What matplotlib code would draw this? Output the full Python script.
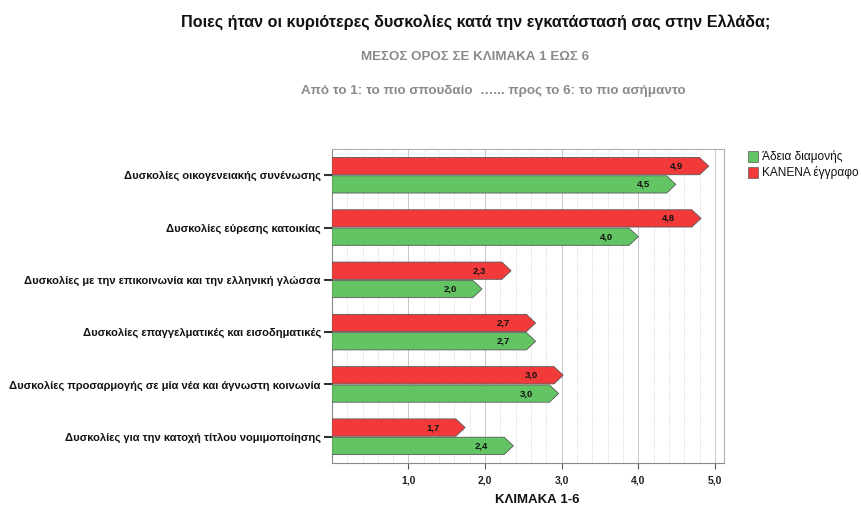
import matplotlib
matplotlib.use("Agg")
import matplotlib.pyplot as plt
from matplotlib.patches import Polygon
from matplotlib.ticker import MultipleLocator

plt.rcParams["font.family"] = ["Liberation Sans", "DejaVu Sans"]

# categories top -> bottom
categories = [
    "Δυσκολίες οικογενειακής συνένωσης",
    "Δυσκολίες εύρεσης κατοικίας",
    "Δυσκολίες με την επικοινωνία και την ελληνική γλώσσα",
    "Δυσκολίες επαγγελματικές και εισοδηματικές",
    "Δυσκολίες προσαρμογής σε μία νέα και άγνωστη κοινωνία",
    "Δυσκολίες για την κατοχή τίτλου νομιμοποίησης",
]
# mean score per group
no_papers = [4.92, 4.82, 2.34, 2.66, 3.02, 1.74]   # ΚΑΝΕΝΑ έγγραφο
permit = [4.49, 4.00, 1.96, 2.66, 2.96, 2.37]      # Άδεια διαμονής
xticks = [1, 2, 3, 4, 5]

RED = "#f23a3a"
GREEN = "#62c462"
EDGE = "#5a5a5a"
HEAD = 0.12
H = 0.33
OFF = 0.175


def arrow_bar(ax, y, v, color):
    body = max(v - HEAD, 0)
    pts = [(0, y - H / 2), (body, y - H / 2), (v, y),
           (body, y + H / 2), (0, y + H / 2)]
    ax.add_patch(Polygon(pts, closed=True, facecolor=color, edgecolor=EDGE,
                         lw=0.6, zorder=3))
    ax.text(v - 0.42, y, f"{v:.1f}".replace(".", ","), ha="center",
            va="center", fontsize=6.8, fontweight="bold", color="#111111",
            zorder=4)


fig = plt.figure(figsize=(8.62, 5.16), dpi=100)
ax = fig.add_axes([0.385, 0.103, 0.455, 0.608])

for i, (r, g) in enumerate(zip(no_papers, permit)):
    arrow_bar(ax, i - OFF, r, RED)
    arrow_bar(ax, i + OFF, g, GREEN)

ax.set_xlim(0, 5.12)
ax.set_ylim(len(categories) - 0.5, -0.5)
ax.set_yticks(range(len(categories)))
ax.set_yticklabels(categories, fontsize=8, fontweight="bold", color="#111111")
ax.set_xticks(xticks)
ax.set_xticklabels([f"{t:.1f}".replace(".", ",") for t in xticks],
                   fontsize=7.5, fontweight="bold", color="#222222")
ax.xaxis.set_minor_locator(MultipleLocator(0.2))
ax.tick_params(axis="y", length=6, width=1.5, color="#333333", pad=2)
ax.tick_params(axis="x", which="major", length=4, width=0.8, color="#555555", pad=5)
ax.tick_params(axis="x", which="minor", length=0)
ax.grid(True, axis="x", which="major", color="#c8c8c8", lw=0.7, zorder=0)
ax.grid(True, axis="x", which="minor", color="#c8c8c8", lw=0.6, ls=":", zorder=0)
ax.set_axisbelow(True)
for side, sp in ax.spines.items():
    sp.set_color("#b0b0b0" if side in ("top", "right") else "#888888")
    sp.set_linewidth(0.8)

fig.text(0.623, 0.031, "ΚΛΙΜΑΚΑ 1-6", ha="center", va="center",
         fontsize=9.5, fontweight="bold", color="#111111")

fig.text(0.552, 0.958, "Ποιες ήταν οι κυριότερες δυσκολίες κατά την εγκατάστασή σας στην Ελλάδα;",
         ha="center", va="center", fontsize=11.6, fontweight="bold", color="#111111")
fig.text(0.551, 0.889, "ΜΕΣΟΣ ΟΡΟΣ ΣΕ ΚΛΙΜΑΚΑ 1 ΕΩΣ 6",
         ha="center", va="center", fontsize=9.6, fontweight="bold", color="#8a8a8a")
fig.text(0.572, 0.824, "Από το 1: το πιο σπουδαίο  …... προς το 6: το πιο ασήμαντο",
         ha="center", va="center", fontsize=9.6, fontweight="bold", color="#8a8a8a")

# legend
for k, (lab, col) in enumerate([("Άδεια διαμονής", GREEN), ("ΚΑΝΕΝΑ έγγραφο", RED)]):
    yy = 0.697 - k * 0.031
    fig.patches.append(plt.Rectangle((0.868, yy - 0.011), 0.011, 0.021,
                                     transform=fig.transFigure, facecolor=col,
                                     edgecolor=EDGE, lw=0.5))
    fig.text(0.884, yy, lab, ha="left", va="center", fontsize=8.6, color="#111111")

fig.savefig("out.png", dpi=100)
